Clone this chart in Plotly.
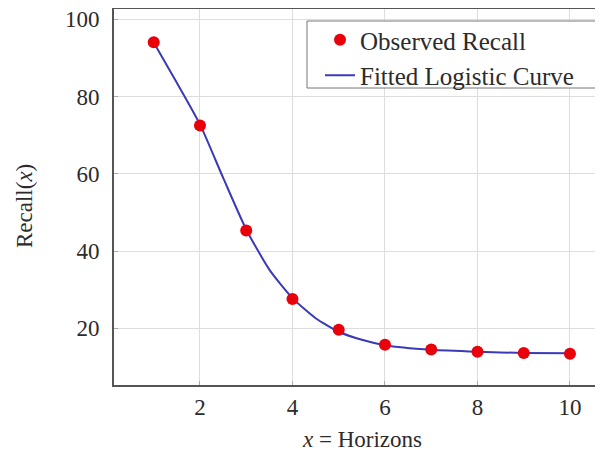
import plotly.graph_objects as go

horizons = [1, 2, 3, 4, 5, 6, 7, 8, 9, 10]
observed_recall = [94.1, 72.5, 45.3, 27.6, 19.6, 15.7, 14.5, 13.9, 13.6, 13.4]

curve_x = [1, 1.5, 2, 2.5, 3, 3.5, 4, 4.5, 5, 5.5, 6, 7, 8, 9, 10]
curve_y = [94.0, 83.6, 72.8, 59.0, 45.6, 35.2, 27.8, 22.6, 19.1, 17.0, 15.6, 14.4, 13.9, 13.6, 13.5]

x_ticks = [2, 4, 6, 8, 10]
y_ticks = [20, 40, 60, 80, 100]

FONT = "Liberation Serif"
TXT = "#2b2b2b"

# page body has an 8px margin; figure is sized to fit inside the window
W, H = 595, 445
L, R, T, B = 106, 0, 1, 68
PW, PH = W - L - R, H - T - B


def px(xs):  # screenshot x -> paper
    return (xs - 8 - L) / PW


def py(ys):  # screenshot y -> paper
    return 1 - (ys - 8 - T) / PH


fig = go.Figure()
fig.add_trace(go.Scatter(
    x=curve_x, y=curve_y, mode="lines", name="Fitted Logistic Curve",
    line=dict(color="#3a3ab8", width=2, shape="spline", smoothing=0.6),
))
fig.add_trace(go.Scatter(
    x=horizons, y=observed_recall, mode="markers", name="Observed Recall",
    marker=dict(color="#e8000b", size=12, line=dict(width=0)),
))

fig.update_layout(
    width=W, height=H,
    margin=dict(l=L, r=R, t=T, b=B, autoexpand=False),
    paper_bgcolor="white", plot_bgcolor="white",
    font=dict(family=FONT, size=23, color=TXT),
    showlegend=True,
    legend=dict(
        x=px(320), y=py(17), xanchor="left", yanchor="top",
        bgcolor="rgba(0,0,0,0)", borderwidth=0,
        font=dict(family=FONT, size=25, color=TXT),
        traceorder="reversed", tracegroupgap=0, itemwidth=30,
    ),
    shapes=[dict(type="rect", xref="paper", yref="paper",
                 x0=px(307), x1=px(597), y0=py(21), y1=py(88),
                 fillcolor="white", line=dict(color="#777777", width=1), layer="above")],
    xaxis=dict(
        range=[0.141, 10.714], tickvals=x_ticks, ticktext=[str(v) for v in x_ticks],
        showgrid=True, gridcolor="#dddddd", gridwidth=1,
        showline=True, linecolor="#555555", linewidth=2, mirror=True,
        ticks="inside", ticklen=4, tickcolor="#aaaaaa", automargin=False,
        ticklabeloverflow="allow",
        zeroline=False, tickfont=dict(family=FONT, size=23, color=TXT),
    ),
    yaxis=dict(
        range=[5.3, 102.7], tickvals=y_ticks, ticktext=[str(v) for v in y_ticks],
        showgrid=True, gridcolor="#dddddd", gridwidth=1,
        showline=True, linecolor="#555555", linewidth=2,
        ticks="inside", ticklen=4, tickcolor="#aaaaaa", automargin=False,
        ticklabelstandoff=8, ticklabeloverflow="allow",
        zeroline=False, tickfont=dict(family=FONT, size=23, color=TXT),
    ),
    annotations=[
        dict(text="<i>x</i> = Horizons", xref="paper", yref="paper",
             x=px(362), y=py(440), xanchor="center", yanchor="middle",
             showarrow=False, font=dict(family=FONT, size=23, color=TXT)),
        dict(text="Recall(<i>x</i>)", xref="paper", yref="paper",
             x=px(24), y=py(206), xanchor="center", yanchor="middle",
             textangle=-90, showarrow=False, font=dict(family=FONT, size=23, color=TXT)),
    ],
)

fig.write_html("out.html")
